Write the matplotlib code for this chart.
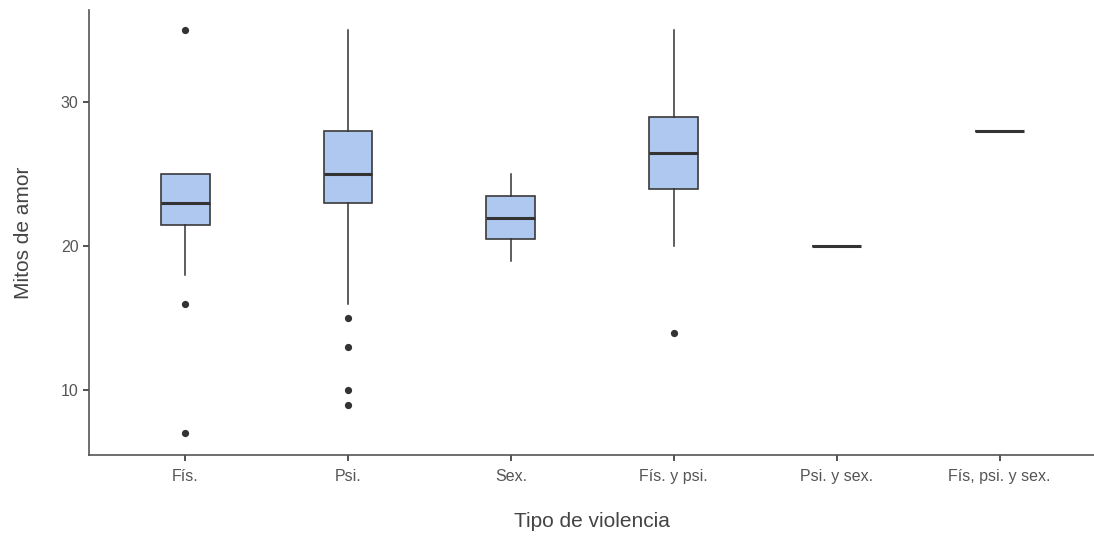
import matplotlib
matplotlib.use("Agg")
import matplotlib.pyplot as plt

plt.rcParams['font.family'] = ['Liberation Sans', 'DejaVu Sans']

categories = ["Fís.", "Psi.", "Sex.", "Fís. y psi.", "Psi. y sex.", "Fís, psi. y sex."]
medians = [23, 25, 22, 26.5, 20, 28]
q1 = [21.5, 23, 20.5, 24, 20, 28]
q3 = [25, 28, 23.5, 29, 20, 28]
whislo = [18, 16, 19, 20, 20, 28]
whishi = [25, 35, 25, 35, 20, 28]
outliers = [[35, 16, 7], [15, 13, 10, 9], [], [14], [], []]
yticks = [10, 20, 30]

stats = []
for i, c in enumerate(categories):
    stats.append(dict(label=c, med=medians[i], q1=q1[i], q3=q3[i],
                      whislo=whislo[i], whishi=whishi[i], fliers=outliers[i]))

fig = plt.figure(figsize=(10.94, 5.36), dpi=100)
ax = fig.add_axes([0.0814, 0.151, 0.9186, 0.830])

positions = list(range(1, len(categories) + 1))
ax.bxp(stats, positions=positions, widths=0.3, patch_artist=True, showcaps=False,
       boxprops=dict(facecolor="#aec8f0", edgecolor="#3a3a3a", linewidth=1.2),
       medianprops=dict(color="#333333", linewidth=2.2),
       whiskerprops=dict(color="#333333", linewidth=1.1),
       flierprops=dict(marker="o", markerfacecolor="#333333", markeredgecolor="#333333",
                       markersize=4.2))

ax.set_xlim(0.41, 6.58)
ax.set_ylim(5.5, 36.4)
ax.set_yticks(yticks)
ax.set_xticks(positions)
ax.set_xticklabels(categories)
for s in ["top", "right"]:
    ax.spines[s].set_visible(False)
for s in ["left", "bottom"]:
    ax.spines[s].set_color("#555555")
    ax.spines[s].set_linewidth(1.2)
ax.tick_params(axis="both", colors="#333333", labelcolor="#555555", labelsize=11.5,
               length=4, width=1.2)
ax.tick_params(axis="x", pad=6)
ax.set_xlabel("Tipo de violencia", fontsize=15, color="#444444", labelpad=20)
ax.set_ylabel("Mitos de amor", fontsize=15, color="#444444", labelpad=20)

fig.savefig("out.png", dpi=100)
